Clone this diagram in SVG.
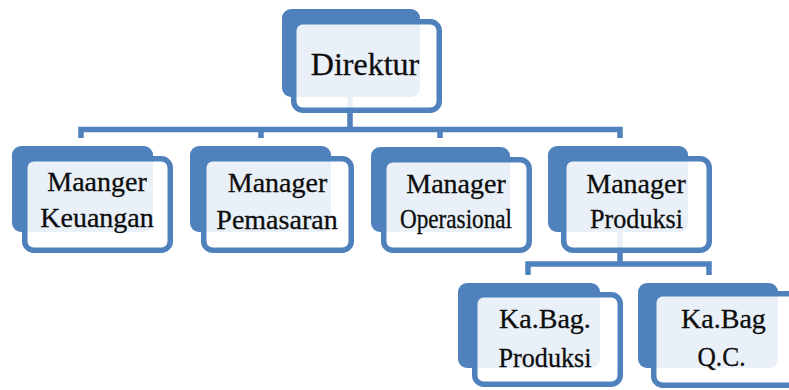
<svg xmlns="http://www.w3.org/2000/svg" width="789" height="390" viewBox="0 0 789 390">
<style>
.back{fill:#4F81BD;}
.front{fill:#FFFFFF;fill-opacity:0.88;stroke:#4F81BD;stroke-width:5.5;}
.conn{fill:none;stroke:#4F81BD;stroke-width:5.5;stroke-linejoin:miter;}
text{font-family:'Liberation Serif', 'DejaVu Serif', serif;font-size:28px;fill:#0d0d0d;text-anchor:middle;stroke:#0d0d0d;stroke-width:0.3;}
.big{font-size:32px;}
</style>
<rect width="789" height="390" fill="#FFFFFF"/>
<g id="backs">
<rect class="back" x="282" y="9" width="138" height="88" rx="9"/>
<rect class="back" x="12" y="146" width="141" height="86" rx="9"/>
<rect class="back" x="190" y="146" width="141" height="86" rx="9"/>
<rect class="back" x="371" y="147" width="139" height="85" rx="9"/>
<rect class="back" x="548" y="146" width="140" height="86" rx="9"/>
<rect class="back" x="458" y="283" width="142" height="85" rx="9"/>
<rect class="back" x="638" y="283" width="140" height="85" rx="9"/>
</g>
<g id="connectors">
<path class="conn" d="M350 97 V129.5 M81 138 V129.5 H620 V138 M261 129.5 V138 M440 129.5 V138"/>
<path class="conn" d="M620 232 V264 M528 275 V264 H709 V275"/>
</g>
<g id="node-direktur">
<rect class="front" x="293.75" y="21.75" width="145.5" height="88.5" rx="9"/>
<text class="big" x="365" y="75">Direktur</text>
</g>
<g id="node-keuangan">
<rect class="front" x="24.75" y="158.75" width="145.5" height="91.5" rx="9"/>
<text x="97" y="191">Maanger</text>
<text x="97" y="227">Keuangan</text>
</g>
<g id="node-pemasaran">
<rect class="front" x="203.75" y="158.75" width="147.5" height="91.5" rx="9"/>
<text x="277.5" y="192">Manager</text>
<text x="277" y="229">Pemasaran</text>
</g>
<g id="node-operasional">
<rect class="front" x="383.75" y="159.75" width="145.5" height="90.5" rx="9"/>
<text x="456" y="193">Manager</text>
<text x="456" y="228" textLength="112" lengthAdjust="spacingAndGlyphs">Operasional</text>
</g>
<g id="node-produksi">
<rect class="front" x="563.75" y="158.75" width="145.5" height="91.5" rx="9"/>
<text x="636" y="193">Manager</text>
<text x="636.5" y="228" textLength="93" lengthAdjust="spacingAndGlyphs">Produksi</text>
</g>
<g id="node-kabag-produksi">
<rect class="front" x="474.75" y="294.75" width="145.5" height="89.5" rx="9"/>
<text x="545" y="328">Ka.Bag.</text>
<text x="545" y="367" textLength="93" lengthAdjust="spacingAndGlyphs">Produksi</text>
</g>
<g id="node-kabag-qc">
<rect class="front" x="653.75" y="293.75" width="145.5" height="91.5" rx="9"/>
<text x="723.5" y="328">Ka.Bag</text>
<text x="721.5" y="366" textLength="48" lengthAdjust="spacingAndGlyphs">Q.C.</text>
</g>
</svg>
